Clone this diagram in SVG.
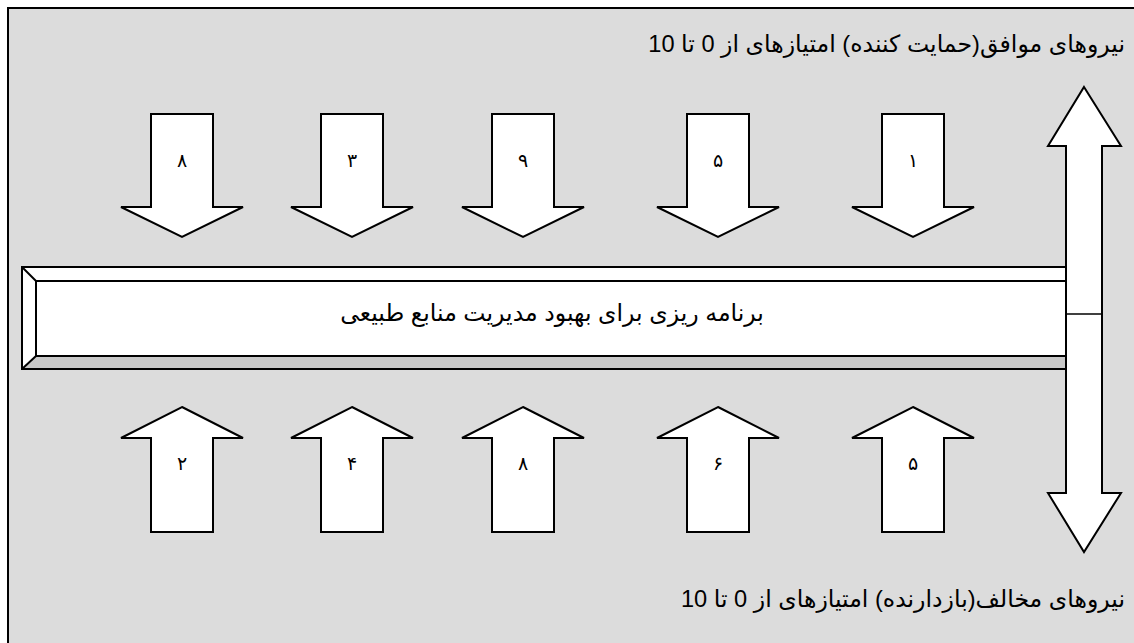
<svg xmlns="http://www.w3.org/2000/svg" width="1134" height="643" viewBox="0 0 1134 643">
<style>
.arr{fill:#ffffff;stroke:#000000;stroke-width:2;stroke-linejoin:miter}
.lbl{font-family:"DejaVu Sans",sans-serif;font-size:19px;fill:#000;text-anchor:middle}
.ttl{font-family:"Liberation Sans","DejaVu Sans",sans-serif;font-size:23.6px;fill:#000}
</style>
<defs>
<polygon id="down" points="-31,114 31,114 31,207 61,207 0,237 -61,207 -31,207"/>
<polygon id="up" points="0,407 61,438 31,438 31,532 -31,532 -31,438 -61,438"/>
</defs>
<rect x="0" y="0" width="1134" height="643" fill="#ffffff"/>
<rect id="frame" x="8" y="8" width="1140" height="650" fill="#dcdcdc" stroke="#000" stroke-width="2"/>
<g id="title-top">
<text class="ttl" x="1125" y="52" text-anchor="end">نیروهای موافق(حمایت کننده) امتیازهای از 0 تا 10</text>
</g>
<g id="title-bottom">
<text class="ttl" x="1125" y="607" text-anchor="end">نیروهای مخالف(بازدارنده) امتیازهای از 0 تا 10</text>
</g>
<g id="bar">
<rect x="22" y="267" width="1044" height="102" fill="#ffffff"/>
<polygon points="22,369 36,356 1066,356 1066,369" fill="#c8c8c8"/>
<rect x="22" y="267" width="1044" height="102" fill="none" stroke="#000" stroke-width="2"/>
<rect x="36" y="281" width="1030" height="75" fill="none" stroke="#000" stroke-width="2"/>
<line x1="22" y1="267" x2="36" y2="281" stroke="#000" stroke-width="2"/>
<line x1="22" y1="369" x2="36" y2="356" stroke="#000" stroke-width="2"/>
<text class="ttl" x="552" y="321" text-anchor="middle" font-size="20.5">برنامه ریزی برای بهبود مدیریت منابع طبیعی</text>
</g>
<g id="double-arrow">
<polygon class="arr" points="1084,87 1121,146 1102,146 1102,493 1121,493 1084,552 1048,493 1066,493 1066,146 1048,146"/>
<line x1="1066" y1="314" x2="1102" y2="314" stroke="#000" stroke-width="1.5"/>
</g>
<g id="pro-1"><use href="#down" class="arr" transform="translate(182,0)"/><text class="lbl" x="182" y="167">۸</text></g>
<g id="pro-2"><use href="#down" class="arr" transform="translate(352,0)"/><text class="lbl" x="352" y="167">۳</text></g>
<g id="pro-3"><use href="#down" class="arr" transform="translate(523,0)"/><text class="lbl" x="523" y="167">۹</text></g>
<g id="pro-4"><use href="#down" class="arr" transform="translate(718,0)"/><text class="lbl" x="718" y="167">۵</text></g>
<g id="pro-5"><use href="#down" class="arr" transform="translate(913,0)"/><text class="lbl" x="913" y="167">۱</text></g>
<g id="con-1"><use href="#up" class="arr" transform="translate(182,0)"/><text class="lbl" x="182" y="470">۲</text></g>
<g id="con-2"><use href="#up" class="arr" transform="translate(352,0)"/><text class="lbl" x="352" y="470">۴</text></g>
<g id="con-3"><use href="#up" class="arr" transform="translate(523,0)"/><text class="lbl" x="523" y="470">۸</text></g>
<g id="con-4"><use href="#up" class="arr" transform="translate(718,0)"/><text class="lbl" x="718" y="470">۶</text></g>
<g id="con-5"><use href="#up" class="arr" transform="translate(913,0)"/><text class="lbl" x="913" y="470">۵</text></g>
</svg>
